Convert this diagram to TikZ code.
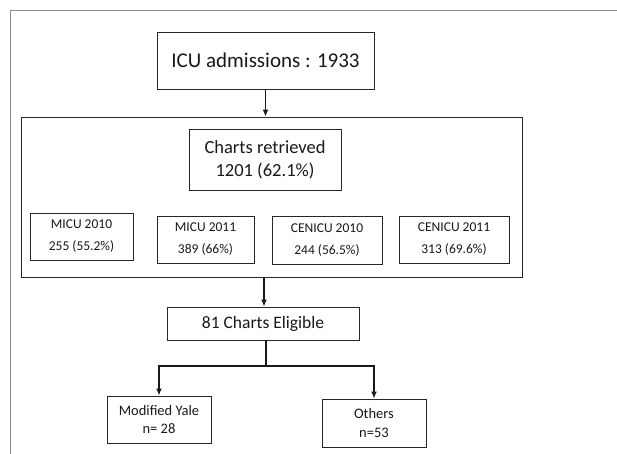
\documentclass[tikz,border=0pt]{standalone}
\usepackage{fontspec}
\setmainfont{Carlito}
\usetikzlibrary{arrows.meta}
\begin{document}
\begin{tikzpicture}[x=1pt,y=-1pt,
  box/.style={draw=black!85,line width=0.9pt,inner sep=0pt,align=center,text=black!90},
  arr/.style={draw=black!90,line width=1.4pt,-{Latex[length=7pt,width=6pt]}},
  ln/.style={draw=black!90,line width=1.4pt}]
\useasboundingbox (0,0) rectangle (617,454);
\fill[white] (0,0) rectangle (617,454);
\draw[black!45,line width=1pt] (10,11) rectangle (640,480);
\node[box,minimum width=217pt,minimum height=57pt,font=\fontsize{21}{24}\selectfont] (icu) at (265.5,60.5) {ICU admissions : 1933};
\node[box,minimum width=501pt,minimum height=160pt] (big) at (271.5,197) {};
\node[box,minimum width=152pt,minimum height=61pt,font=\fontsize{18.5}{23}\selectfont] (cr) at (265,159.5) {Charts retrieved\\1201 (62.1\%)};
\tikzset{small/.style={box,minimum height=47pt,font=\fontsize{13.5}{20}\selectfont}}
\node[small,minimum width=103pt] (m10) at (81.5,236.5) {MICU 2010\\[2pt]255 (55.2\%)};
\node[small,minimum width=97pt] (m11) at (205.5,239.5) {MICU 2011\\[2pt]389 (66\%)};
\node[small,minimum width=110pt,minimum height=48pt] (c10) at (327,240) {CENICU 2010\\[2pt]244 (56.5\%)};
\node[small,minimum width=110pt] (c11) at (454,239.5) {CENICU 2011\\[2pt]313 (69.6\%)};
\node[box,minimum width=192pt,minimum height=33pt,font=\fontsize{17.5}{20}\selectfont] (el) at (263,323.5) {81 Charts Eligible};
\node[small,minimum width=104pt,font=\fontsize{14.5}{18.5}\selectfont] (ya) at (159,419.5) {Modified Yale\\n= 28};
\node[small,minimum width=104pt,minimum height=48pt,font=\fontsize{14.5}{18.5}\selectfont] (ot) at (374,423) {Others\\n=53};
\coordinate (j) at (266,366);
\draw[arr] (icu.south) -- (icu.south |- big.north);
\draw[arr] (big.south -| 264,0) -- (el.north -| 264,0);
\draw[ln] (el.south -| j) -- (j);
\draw[arr] (j) -| (ya.north);
\draw[arr] (j) -| (ot.north);
\end{tikzpicture}
\end{document}
